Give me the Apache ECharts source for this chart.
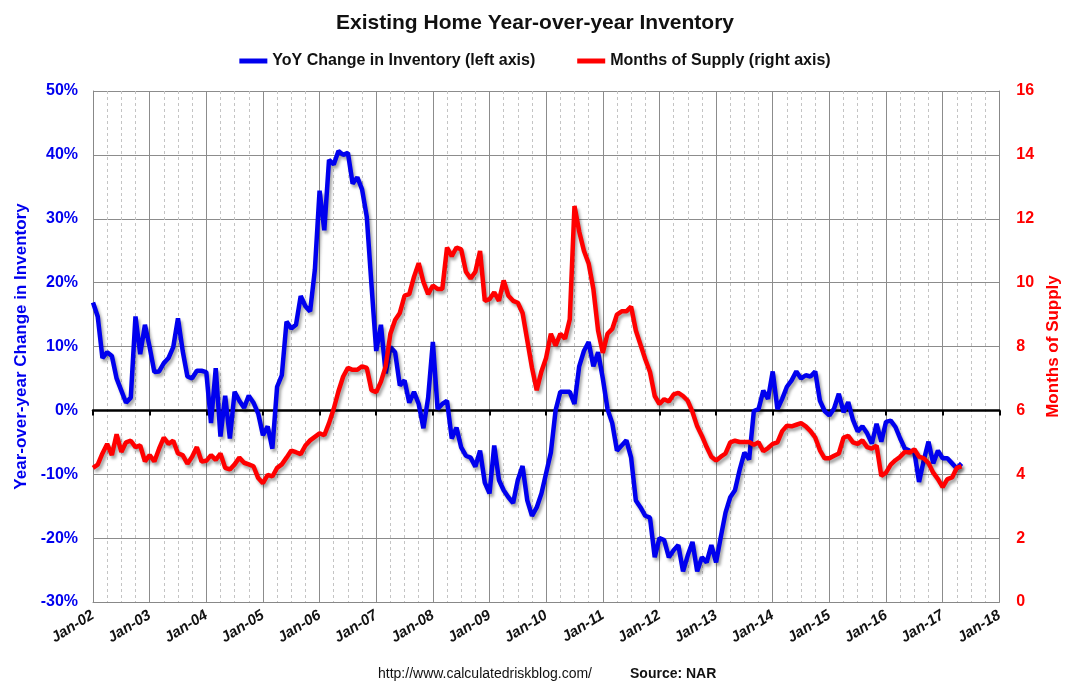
<!DOCTYPE html>
<html><head><meta charset="utf-8">
<script src="https://cdn.jsdelivr.net/npm/echarts@6/dist/echarts.min.js"></script>
<style>html,body{margin:0;padding:0;background:#fff}#c{width:1070px;height:688px}</style>
</head><body><div id="c"></div>
<script>
const startYear = 2002;
const endYear = 2018;
// YoY change in inventory (%), monthly Jan-2002 .. May-2017
const yoyChange = [
  16.9, 14.7, 8.2, 9.1, 8.5, 5.0, 3.1, 1.2, 2.0, 14.7, 8.8, 13.4,
  9.9, 6.0, 6.1, 7.4, 8.2, 9.9, 14.4, 9.3, 5.3, 5.0, 6.2, 6.2,
  6.0, -2.0, 6.6, -4.1, 2.3, -4.4, 2.9, 1.5, 0.4, 2.3, 1.2, -0.5,
  -3.9, -2.5, -6.0, 3.7, 5.5, 13.9, 12.8, 13.4, 17.9, 16.3, 15.5, 22.0,
  34.4, 28.2, 39.2, 38.5, 40.6, 40.0, 40.3, 35.5, 36.5, 34.6, 30.3, 19.6,
  9.3, 13.4, 5.8, 9.9, 9.1, 3.9, 4.7, 1.2, 2.9, 1.0, -2.8, 2.0,
  10.7, 0.2, 1.0, 1.5, -4.4, -2.7, -5.8, -7.1, -7.4, -8.8, -6.3, -11.3,
  -13.0, -5.5, -10.9, -12.5, -13.6, -14.5, -10.9, -8.7, -14.1, -16.5, -15.2, -13.0,
  -9.8, -6.6, 0.0, 2.9, 2.9, 2.9, 1.0, 6.9, 9.3, 10.7, 6.9, 9.1,
  5.0, 0.2, -2.0, -6.3, -5.5, -4.7, -7.4, -14.1, -15.2, -16.5, -16.8, -23.0,
  -20.0, -20.3, -23.0, -21.9, -21.1, -25.2, -22.7, -20.6, -25.2, -23.0, -23.8, -21.1,
  -23.8, -19.8, -16.0, -13.6, -12.5, -9.3, -6.6, -7.7, -0.1, 0.2, 3.1, 1.8,
  6.1, 0.2, 1.8, 3.7, 4.7, 6.1, 5.0, 5.5, 5.3, 6.1, 1.5, -0.1,
  -0.8, 0.3, 2.6, -0.3, 1.3, -1.5, -3.3, -2.5, -3.6, -5.2, -2.1, -4.9,
  -1.8, -1.6, -2.6, -4.4, -6.0, -6.3, -6.5, -11.2, -7.8, -4.9, -8.3, -6.3,
  -7.5, -7.5, -8.3, -9.1, -8.3
];
// Months of supply, monthly Jan-2002 .. May-2017
const monthsSupply = [
  4.2, 4.3, 4.65, 4.95, 4.6, 5.25, 4.7, 5.0, 5.05, 4.85, 4.9, 4.4,
  4.6, 4.4, 4.8, 5.15, 4.95, 5.05, 4.65, 4.6, 4.33, 4.55, 4.85, 4.4,
  4.42, 4.6, 4.45, 4.65, 4.2, 4.15, 4.31, 4.52, 4.36, 4.31, 4.25, 3.88,
  3.72, 3.98, 3.93, 4.2, 4.31, 4.52, 4.74, 4.69, 4.63, 4.9, 5.06, 5.17,
  5.28, 5.22, 5.6, 6.05, 6.6, 7.06, 7.33, 7.27, 7.27, 7.38, 7.33, 6.63,
  6.57, 6.9, 7.38, 8.4, 8.83, 9.05, 9.59, 9.64, 10.18, 10.61, 10.02, 9.64,
  9.91, 9.8, 9.8, 11.1, 10.83, 11.1, 11.04, 10.34, 10.13, 10.34, 10.99, 9.43,
  9.48, 9.7, 9.43, 10.07, 9.59, 9.43, 9.37, 9.05, 8.19, 7.33, 6.63, 7.22,
  7.65, 8.4, 8.03, 8.4, 8.24, 8.85, 12.4, 11.6, 11.0, 10.6, 9.8, 8.5,
  7.8, 8.4, 8.55, 9.0, 9.1, 9.1, 9.25, 8.5, 8.05, 7.6, 7.2, 6.45,
  6.2, 6.35, 6.28, 6.5, 6.55, 6.45, 6.3, 5.95, 5.5, 5.2, 4.85, 4.55,
  4.43, 4.55, 4.65, 5.0, 5.05, 5.01, 5.01, 5.01, 4.92, 5.0, 4.72, 4.82,
  4.95, 5.0, 5.35, 5.52, 5.5, 5.55, 5.6, 5.5, 5.35, 5.15, 4.75, 4.5,
  4.5, 4.58, 4.65, 5.15, 5.2, 5.0, 4.95, 5.06, 4.85, 4.8, 4.9, 3.95,
  4.05, 4.3, 4.44, 4.55, 4.7, 4.68, 4.78, 4.55, 4.5, 4.35, 4.05, 3.85,
  3.6, 3.85, 3.9, 4.2, 4.25
];
const leftTicks = { min: -30, max: 50, step: 10 };
const rightTicks = { min: 0, max: 16, step: 2 };
const seriesNames = ['YoY Change in Inventory (left axis)', 'Months of Supply (right axis)'];

// time position of each month (decimal year)
const monthPos = yoyChange.map((_, i) => startYear + i / 12);

const FONT = "'Liberation Sans', Arial, sans-serif";
const BLUE = '#0000ee';
const RED = '#ff0000';
const shadow = { shadowColor: 'rgba(0,0,0,0.35)', shadowBlur: 3, shadowOffsetX: 2, shadowOffsetY: 3 };

const chart = echarts.init(document.getElementById('c'), null, { renderer: 'canvas' });
chart.setOption({
  backgroundColor: '#fff',
  animation: false,
  textStyle: { fontFamily: FONT },
  title: {
    text: 'Existing Home Year-over-year Inventory',
    left: 'center', top: 8,
    textStyle: { fontFamily: FONT, fontWeight: 'bold', fontSize: 21, color: '#111' }
  },
  legend: {
    top: 48, left: 'center', itemGap: 42, itemWidth: 28, itemHeight: 5,
    icon: 'rect',
    textStyle: { fontFamily: FONT, fontWeight: 'bold', fontSize: 16, color: '#111' },
    data: seriesNames
  },
  grid: { left: 93, right: 70, top: 91, bottom: 86 },
  xAxis: [
    {
      type: 'value', min: startYear, max: endYear, interval: 1, position: 'bottom',
      axisLine: { onZero: false, lineStyle: { color: '#888', width: 1 } },
      axisTick: { show: false },
      axisLabel: {
        rotate: 32, margin: 12, color: '#111',
        fontFamily: FONT, fontWeight: 'bold', fontStyle: 'italic', fontSize: 15,
        formatter: v => 'Jan-' + String(v % 100).padStart(2, '0')
      },
      splitLine: { show: true, lineStyle: { color: '#8c8c8c', width: 1 } },
      minorTick: { show: false, splitNumber: 4 },
      minorSplitLine: { show: true, lineStyle: { color: '#c4c4c4', width: 1, type: [3, 3] } }
    },
    {
      type: 'value', min: startYear, max: endYear, interval: 1, position: 'bottom',
      axisLine: { onZero: true, onZeroAxisIndex: 0, lineStyle: { color: '#000', width: 2.5 } },
      axisTick: { show: true, inside: false, length: 5, lineStyle: { color: '#000', width: 2 } },
      axisLabel: { show: false },
      splitLine: { show: false }
    }
  ],
  yAxis: [
    {
      type: 'value', min: leftTicks.min, max: leftTicks.max, interval: leftTicks.step, position: 'left',
      name: 'Year-over-year Change in Inventory', nameLocation: 'middle', nameGap: 61, nameRotate: 90,
      nameTextStyle: { color: BLUE, fontFamily: FONT, fontSize: 17, fontWeight: 'bold' },
      axisLine: { show: true, lineStyle: { color: '#888' } },
      axisTick: { show: false },
      axisLabel: { color: BLUE, fontFamily: FONT, fontWeight: 'bold', fontSize: 16, margin: 15, formatter: '{value}%' },
      splitLine: { show: true, lineStyle: { color: '#8c8c8c', width: 1 } }
    },
    {
      type: 'value', min: rightTicks.min, max: rightTicks.max, interval: rightTicks.step, position: 'right',
      name: 'Months of Supply', nameLocation: 'middle', nameGap: 44, nameRotate: 90,
      nameTextStyle: { color: RED, fontFamily: FONT, fontSize: 17, fontWeight: 'bold' },
      axisLine: { show: true, lineStyle: { color: '#888' } },
      axisTick: { show: false },
      axisLabel: { color: RED, fontFamily: FONT, fontWeight: 'bold', fontSize: 16, margin: 17 },
      splitLine: { show: false }
    }
  ],
  series: [
    {
      name: seriesNames[0], type: 'line', xAxisIndex: 0, yAxisIndex: 0,
      showSymbol: false, symbol: 'none', color: BLUE,
      lineStyle: Object.assign({ color: BLUE, width: 4.5 }, shadow),
      data: yoyChange.map((v, i) => [monthPos[i], v]), z: 3
    },
    {
      name: seriesNames[1], type: 'line', xAxisIndex: 0, yAxisIndex: 1,
      showSymbol: false, symbol: 'none', color: RED,
      lineStyle: Object.assign({ color: RED, width: 4.5 }, shadow),
      data: monthsSupply.map((v, i) => [monthPos[i], v]), z: 4
    }
  ],
  graphic: [
    { type: 'text', left: 378, top: 667, style: { text: 'http://www.calculatedriskblog.com/', font: "14px " + FONT, fill: '#111' } },
    { type: 'text', left: 630, top: 667, style: { text: 'Source: NAR', font: "bold 14px " + FONT, fill: '#111' } }
  ]
});
</script>
</body></html>
